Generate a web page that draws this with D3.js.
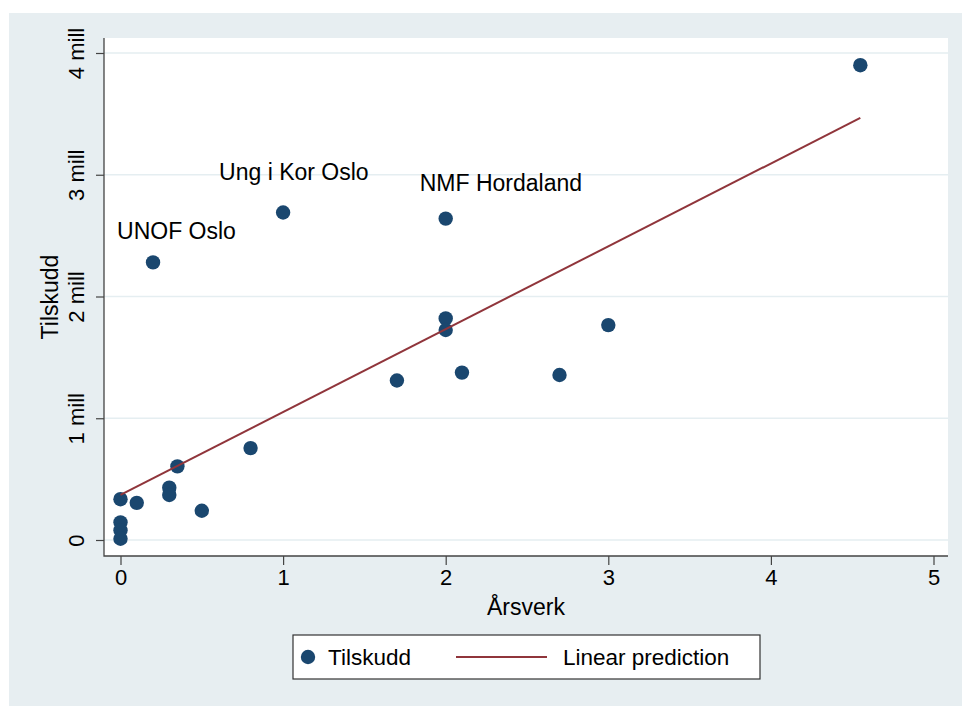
<!DOCTYPE html>
<html>
<head>
<meta charset="utf-8">
<script src="https://cdn.jsdelivr.net/npm/d3@7"></script>
<style>
  body { margin: 0; background: #fff; }
  text { font-family: "Liberation Sans", Arial, Helvetica, sans-serif; fill: #000; }
</style>
</head>
<body>
<div id="chart"></div>
<script>
// Årsverk vs Tilskudd (kr)
const arsverk  = [4.55, 1.0, 2.0, 0.2, 2.0, 2.0, 3.0, 1.7, 2.1, 2.7, 0.8, 0.35, 0.3, 0.3, 0.1, 0, 0.5, 0, 0, 0];
const tilskudd = [3900000, 2690000, 2640000, 2280000, 1820000, 1725000, 1765000, 1310000, 1375000, 1355000,
                  755000, 605000, 430000, 370000, 305000, 335000, 240000, 145000, 80000, 10000];
const labels = ['', 'Ung i Kor Oslo', 'NMF Hordaland', 'UNOF Oslo'];

// linear prediction
const fit_x = [0, 4.55];
const fit_y = [370000, 3467000];

const x_ticks = [0, 1, 2, 3, 4, 5];
const y_ticks = [0, 1000000, 2000000, 3000000, 4000000];
const y_tick_labels = ['0', '1 mill', '2 mill', '3 mill', '4 mill'];

const width = 962;
const height = 706;
const plot = { left: 104, right: 948, top: 38, bottom: 556 };

const navy = '#1a476f';
const maroon = '#90353b';
const bg = '#e7eef1';

const x_scale = d3.scaleLinear().domain([0, 5]).range([120.5, 933.5]);
const y_scale = d3.scaleLinear().domain([0, 4000000]).range([540, 53]);

const svg = d3.select('#chart')
  .append('svg')
    .attr('width', width)
    .attr('height', height);

svg.append('rect')
  .attr('x', 9).attr('y', 13)
  .attr('width', width - 9).attr('height', height - 13)
  .attr('fill', bg);

svg.append('rect')
  .attr('x', plot.left).attr('y', plot.top)
  .attr('width', plot.right - plot.left).attr('height', plot.bottom - plot.top)
  .attr('fill', '#fff');

// grid
svg.selectAll('line.grid')
    .data(y_ticks)
  .join('line')
    .attr('class', 'grid')
    .attr('x1', plot.left).attr('x2', plot.right)
    .attr('y1', d => y_scale(d)).attr('y2', d => y_scale(d))
    .attr('stroke', '#e5eef1')
    .attr('stroke-width', 1.6);

// axes
const x_axis = svg.append('g')
  .attr('transform', 'translate(0,' + plot.bottom + ')')
  .call(d3.axisBottom(x_scale).tickValues(x_ticks).tickSize(9).tickPadding(4).tickFormat(d3.format('d')));
x_axis.select('.domain').remove();
x_axis.selectAll('line').attr('stroke', '#444').attr('stroke-width', 1.2);
x_axis.selectAll('text').attr('font-size', 22).attr('font-family', null).attr('fill', '#000');

const y_axis = svg.append('g')
  .attr('transform', 'translate(' + plot.left + ',0)')
  .call(d3.axisLeft(y_scale).tickValues(y_ticks).tickSize(8).tickFormat((d, i) => y_tick_labels[i]));
y_axis.select('.domain').remove();
y_axis.selectAll('line').attr('stroke', '#444').attr('stroke-width', 1.2);
y_axis.selectAll('text')
  .attr('font-size', 22).attr('font-family', null).attr('fill', '#000')
  .attr('text-anchor', 'middle')
  .attr('x', null).attr('dy', null)
  .attr('transform', 'translate(-20,0) rotate(-90)');

svg.append('path')
  .attr('d', 'M' + plot.left + ',' + plot.top + 'V' + plot.bottom + 'H' + plot.right)
  .attr('fill', 'none')
  .attr('stroke', '#444')
  .attr('stroke-width', 1.3);

// axis titles
svg.append('text')
  .attr('x', (plot.left + plot.right) / 2).attr('y', 615)
  .attr('text-anchor', 'middle')
  .attr('font-size', 23)
  .text('Årsverk');
svg.append('text')
  .attr('transform', 'translate(58,' + (plot.top + plot.bottom) / 2 + ') rotate(-90)')
  .attr('text-anchor', 'middle')
  .attr('font-size', 23)
  .text('Tilskudd');

// points
const points = arsverk.map((d, i) => ({ x: d, y: tilskudd[i], label: labels[i] || '' }));
svg.selectAll('circle.pt')
    .data(points)
  .join('circle')
    .attr('class', 'pt')
    .attr('cx', d => x_scale(d.x))
    .attr('cy', d => y_scale(d.y))
    .attr('r', 7.2)
    .attr('fill', navy);

// marker labels
const label_offset = { 'Ung i Kor Oslo': [-64, -32], 'NMF Hordaland': [-26, -28], 'UNOF Oslo': [-36, -23] };
svg.selectAll('text.mlab')
    .data(points.filter(d => d.label))
  .join('text')
    .attr('class', 'mlab')
    .attr('x', d => x_scale(d.x) + label_offset[d.label][0])
    .attr('y', d => y_scale(d.y) + label_offset[d.label][1])
    .attr('font-size', 23)
    .text(d => d.label);

// fit line
svg.append('path')
  .datum(fit_x.map((d, i) => [d, fit_y[i]]))
  .attr('d', d3.line().x(d => x_scale(d[0])).y(d => y_scale(d[1])))
  .attr('fill', 'none')
  .attr('stroke', maroon)
  .attr('stroke-width', 2);

// legend
const legend = svg.append('g');
legend.append('rect')
  .attr('x', 293).attr('y', 635)
  .attr('width', 467).attr('height', 44)
  .attr('fill', '#fff')
  .attr('stroke', '#333')
  .attr('stroke-width', 1.2);
legend.append('circle')
  .attr('cx', 308).attr('cy', 657).attr('r', 7.2).attr('fill', navy);
legend.append('text')
  .attr('x', 328).attr('y', 665).attr('font-size', 22.5).text('Tilskudd');
legend.append('line')
  .attr('x1', 456).attr('x2', 547).attr('y1', 657).attr('y2', 657)
  .attr('stroke', maroon).attr('stroke-width', 2);
legend.append('text')
  .attr('x', 563).attr('y', 665).attr('font-size', 22.5).text('Linear prediction');
</script>
</body>
</html>
